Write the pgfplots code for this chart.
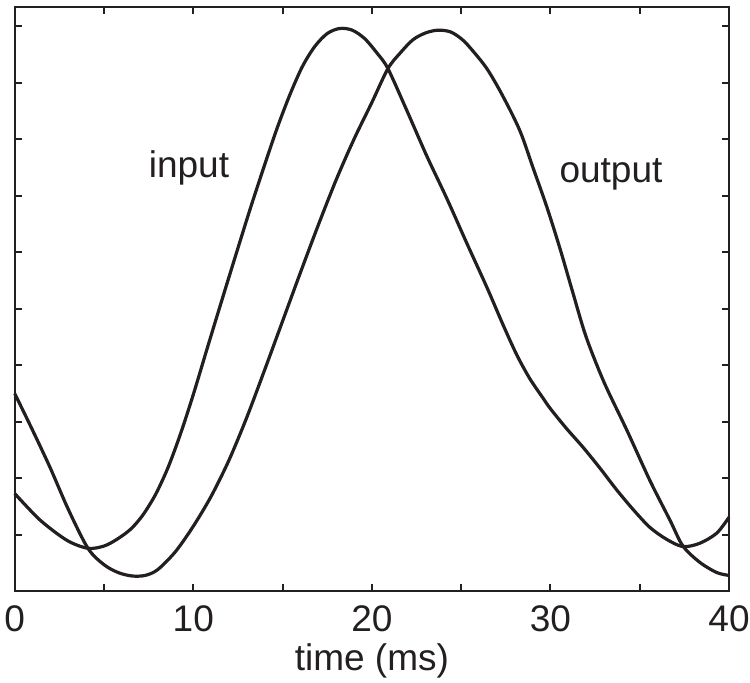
\documentclass[border=0pt]{standalone}
\usepackage{fontspec}
\setmainfont{Liberation Sans}
\usepackage{pgfplots}
\pgfplotsset{compat=1.18}
\definecolor{ink}{RGB}{35,31,32}
\newcommand{\bigfont}{\fontsize{18.5}{22}\selectfont}
\begin{document}
\begin{tikzpicture}
\begin{axis}[
  scale only axis,
  width=357pt, height=292pt,
  xmin=0, xmax=40, ymin=0, ymax=10.34,
  xtick={0,5,...,40},
  xticklabels={0,,10,,20,,30,,40},
  ytick={0,1,...,10},
  yticklabels={},
  tick align=inside,
  xtick pos=both, ytick pos=both,
  major tick length=3.5pt,
  axis line style={line width=1.1pt, ink},
  every tick/.style={line width=1pt, ink},
  /pgf/number format/assume math mode=true,
  xticklabel style={font=\bigfont, text=ink, anchor=base, yshift=-20pt},
  xlabel={time (ms)},
  xlabel style={font=\bigfont, text=ink, at={(axis description cs:0.5,0)}, anchor=base, yshift=-39.5pt},
  clip=false,
]
% input
\addplot[ink, line width=1.6pt, smooth, tension=0.5] coordinates {
(0,1.73) (1.42,1.26) (2.93,0.90) (4.10,0.76) (5.0,0.80) (5.73,0.92)
(6.5,1.10) (7.18,1.35) (7.9,1.72) (8.6,2.20) (9.3,2.80) (10.0,3.48)
(10.8,4.32) (11.6,5.15) (12.4,5.97) (13.2,6.78) (14.0,7.55) (14.7,8.20)
(15.4,8.78) (16.1,9.28) (16.8,9.64) (17.5,9.87) (18.2,9.96) (18.9,9.93)
(19.6,9.78) (20.3,9.52) (20.9,9.25) (21.97,8.50) (23.08,7.70) (24.2,6.95)
(25.33,6.15) (26.44,5.38) (27.34,4.72) (28.12,4.18) (28.85,3.76) (29.58,3.42)
(30.0,3.23) (30.9,2.88) (31.82,2.55) (32.77,2.18) (33.72,1.79) (34.65,1.44)
(35.57,1.13) (36.5,0.92) (37.42,0.79) (38.37,0.85) (39.32,1.03) (40,1.31)
};
% output
\addplot[ink, line width=1.6pt, smooth, tension=0.5] coordinates {
(0,3.50) (1.0,2.85) (1.98,2.19) (3.0,1.45) (4.10,0.76) (5.0,0.47)
(5.8,0.33) (6.57,0.27) (7.3,0.28) (8.0,0.38) (9.0,0.70) (10.0,1.15)
(11.0,1.68) (12.0,2.32) (13.0,3.08) (14.0,3.92) (15.0,4.78) (16.0,5.64)
(17.0,6.48) (18.0,7.28) (19.0,8.00) (20.0,8.65) (20.9,9.25) (21.6,9.53)
(22.3,9.76) (23.0,9.88) (23.7,9.93) (24.4,9.90) (25.0,9.78) (25.5,9.62)
(26.44,9.25) (27.34,8.76) (28.29,8.15) (29.02,7.50) (29.80,6.80) (30.53,6.07)
(31.26,5.28) (32.0,4.50) (33.0,3.70) (34.28,2.85) (35.57,1.96) (36.69,1.26)
(37.42,0.80) (38.37,0.51) (39.32,0.33) (40,0.28)
};
\node[font=\bigfont, text=ink, anchor=base] at (axis cs:9.76,7.33) {input};
\node[font=\bigfont, text=ink, anchor=base] at (axis cs:33.39,7.24) {output};
\end{axis}
\pgfresetboundingbox
\path ([xshift=-7.35pt,yshift=3.5pt]current axis.north west) rectangle ([xshift=10.5pt,yshift=-45.5pt]current axis.south east);
\end{tikzpicture}
\end{document}
